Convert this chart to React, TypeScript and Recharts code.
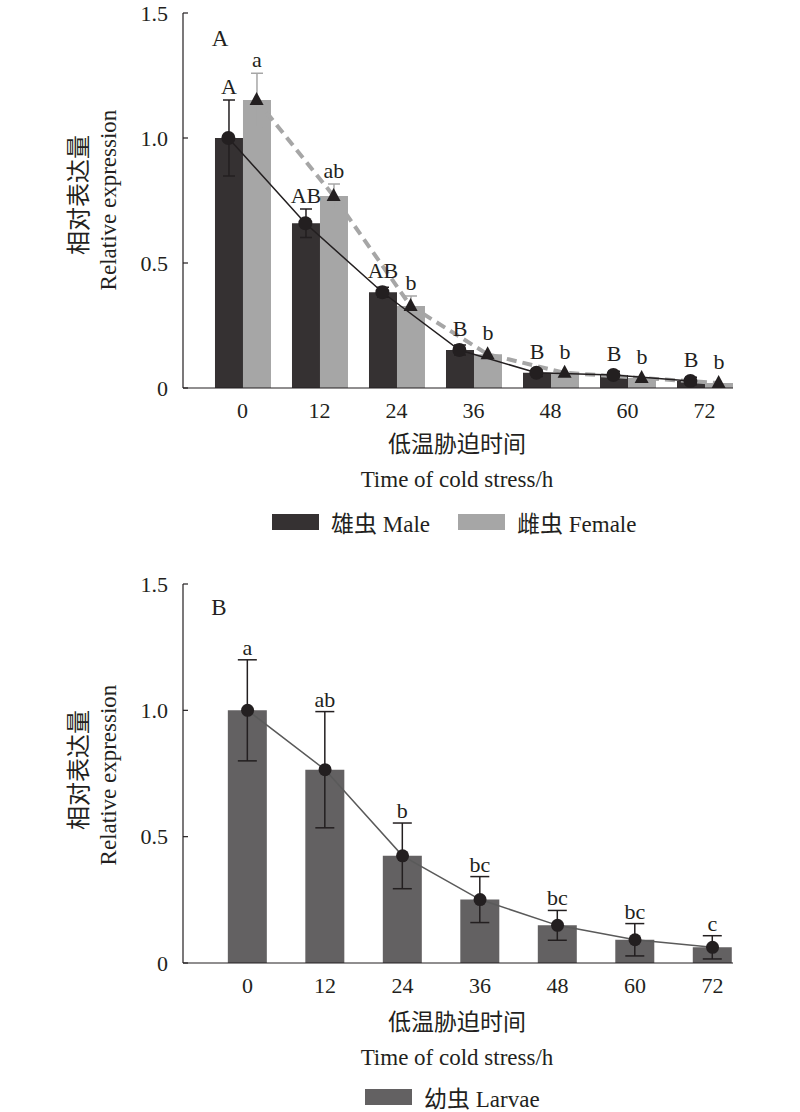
import {
  Bar,
  ComposedChart,
  ErrorBar,
  LabelList,
  Line,
  XAxis,
  YAxis,
} from "recharts";

const hours = [0, 12, 24, 36, 48, 60, 72];
const yTicks = [0, 0.5, 1, 1.5];

const maleMean = [1.0, 0.659, 0.383, 0.152, 0.061, 0.052, 0.028];
const maleErr = [0.152, 0.057, 0.02, 0.02, 0.015, 0.015, 0.015];
const maleLetters = ["A", "AB", "AB", "B", "B", "B", "B"];

const femaleMean = [1.152, 0.768, 0.328, 0.135, 0.061, 0.04, 0.02];
const femaleErr = [0.107, 0.048, 0.04, 0, 0, 0, 0];
const femaleLetters = ["a", "ab", "b", "b", "b", "b", "b"];

const larvaeMean = [1.0, 0.765, 0.424, 0.251, 0.149, 0.092, 0.062];
const larvaeErr = [0.2, 0.23, 0.13, 0.091, 0.059, 0.064, 0.046];
const larvaeLetters = ["a", "ab", "b", "bc", "bc", "bc", "c"];

const ink = "#231f20";
const maleColor = "#353132";
const femaleColor = "#a6a6a6";
const larvaeColor = "#636162";
const font = '"Liberation Serif", "Times New Roman", "Noto Sans CJK SC", serif';

const adultData = hours.map((h, i) => ({
  h,
  male: maleMean[i],
  maleErr: maleErr[i],
  female: femaleMean[i],
  femaleErr: femaleErr[i],
}));

const larvaeData = hours.map((h, i) => ({
  h,
  larvae: larvaeMean[i],
  larvaeErr: larvaeErr[i],
}));

// letter above the error bar (or above the marker when the error bar is tiny)
const letterLabel =
  (letters: string[], means: number[], errs: number[], lift: number) =>
  (props: any) => {
    const vb = props.viewBox || props;
    const i = props.index;
    if (i == null || vb.height == null) return null;
    const pxPerUnit = vb.height / means[i];
    const errTop = vb.y - errs[i] * pxPerUnit;
    const base = Math.min(errTop, vb.y - 8) - lift;
    return (
      <text
        key={`lab-${i}`}
        x={vb.x + vb.width / 2}
        y={base}
        textAnchor="middle"
        fontSize={22}
        fontFamily={font}
        fill={ink}
      >
        {letters[i]}
      </text>
    );
  };

const Triangle = (props: any) => {
  const { cx, cy, index } = props;
  if (cx == null || cy == null) return null;
  return (
    <polygon
      key={`tri-${index}`}
      points={`${cx},${cy - 8} ${cx - 7},${cy + 5} ${cx + 7},${cy + 5}`}
      fill={ink}
    />
  );
};

const Circle = (r: number) => (props: any) => {
  const { cx, cy, index } = props;
  if (cx == null || cy == null) return null;
  return <circle key={`dot-${index}`} cx={cx} cy={cy} r={r} fill={ink} />;
};

const tickStyle = { fontSize: 22, fill: ink, fontFamily: font };
const axisStyle = { stroke: ink, strokeWidth: 1.2 };
const fmtY = (v: number) => (v === 0 ? "0" : v.toFixed(1));

const text = (
  s: string,
  cx: number,
  cy: number,
  size: number,
  rotate = false
) => (
  <div
    style={{
      position: "absolute",
      left: cx,
      top: cy,
      transform: `translate(-50%, -50%)${rotate ? " rotate(-90deg)" : ""}`,
      whiteSpace: "nowrap",
      fontSize: size,
      lineHeight: 1,
      fontFamily: font,
      color: ink,
    }}
  >
    {s}
  </div>
);

const legendItem = (label: string, color: string, left: number, cy: number) => (
  <div
    style={{
      position: "absolute",
      left,
      top: cy - 15,
      height: 30,
      display: "flex",
      alignItems: "center",
      fontSize: 23,
      fontFamily: font,
      color: ink,
      whiteSpace: "nowrap",
    }}
  >
    <span
      style={{
        display: "inline-block",
        width: 47,
        height: 16,
        background: color,
        marginRight: 12,
      }}
    />
    {label}
  </div>
);

const topDomain: [number, number] = [-9.27, 76.44];
const botDomain: [number, number] = [-10, 75.17];
const shift = 2.2;

export default function App() {
  return (
    <div
      style={{
        position: "absolute",
        left: 0,
        top: 0,
        width: 800,
        height: 1112,
        background: "#fff",
      }}
    >
      <div style={{ position: "absolute", left: 0, top: 0 }}>
        <ComposedChart
          width={800}
          height={428}
          data={adultData}
          margin={{ top: 13, right: 67, bottom: 0, left: 0 }}
          barGap={0}
        >
          <XAxis
            xAxisId="main"
            dataKey="h"
            type="number"
            domain={topDomain}
            ticks={hours}
            interval={0}
            allowDataOverflow
            tickLine={false}
            axisLine={axisStyle}
            tick={tickStyle}
            tickMargin={8}
            height={40}
          />
          {/* hidden axes that place the mean markers on each bar of the pair */}
          <XAxis
            xAxisId="m"
            dataKey="h"
            type="number"
            orientation="top"
            domain={[topDomain[0] + shift, topDomain[1] + shift]}
            allowDataOverflow
            hide
          />
          <XAxis
            xAxisId="f"
            dataKey="h"
            type="number"
            orientation="top"
            domain={[topDomain[0] - shift, topDomain[1] - shift]}
            allowDataOverflow
            hide
          />
          <YAxis
            width={183}
            domain={[0, 1.5]}
            ticks={yTicks}
            tickFormatter={fmtY}
            tickSize={-5}
            tickMargin={20}
            tickLine={axisStyle}
            axisLine={axisStyle}
            tick={tickStyle}
          />
          <Bar
            xAxisId="main"
            dataKey="male"
            fill={maleColor}
            barSize={28}
            isAnimationActive={false}
          >
            <ErrorBar dataKey="maleErr" width={6} stroke={ink} strokeWidth={1.5} />
            <LabelList
              dataKey="male"
              content={letterLabel(maleLetters, maleMean, maleErr, 6)}
            />
          </Bar>
          <Bar
            xAxisId="main"
            dataKey="female"
            fill={femaleColor}
            barSize={28}
            isAnimationActive={false}
          >
            <ErrorBar
              dataKey="femaleErr"
              width={6}
              stroke={femaleColor}
              strokeWidth={1.5}
            />
            <LabelList
              dataKey="female"
              content={letterLabel(femaleLetters, femaleMean, femaleErr, 6)}
            />
          </Bar>
          <Line
            xAxisId="f"
            dataKey="female"
            type="linear"
            stroke={femaleColor}
            strokeWidth={4}
            strokeDasharray="10 6"
            dot={Triangle}
            activeDot={false}
            isAnimationActive={false}
          />
          <Line
            xAxisId="m"
            dataKey="male"
            type="linear"
            stroke={ink}
            strokeWidth={1.5}
            dot={Circle(7)}
            activeDot={false}
            isAnimationActive={false}
          />
        </ComposedChart>
      </div>

      <div style={{ position: "absolute", left: 0, top: 570 }}>
        <ComposedChart
          width={800}
          height={433}
          data={larvaeData}
          margin={{ top: 14, right: 67, bottom: 0, left: 0 }}
        >
          <XAxis
            dataKey="h"
            type="number"
            domain={botDomain}
            ticks={hours}
            interval={0}
            allowDataOverflow
            tickLine={false}
            axisLine={axisStyle}
            tick={tickStyle}
            tickMargin={8}
            height={40}
          />
          <YAxis
            width={183}
            domain={[0, 1.5]}
            ticks={yTicks}
            tickFormatter={fmtY}
            tickSize={-5}
            tickMargin={20}
            tickLine={axisStyle}
            axisLine={axisStyle}
            tick={tickStyle}
          />
          <Bar
            dataKey="larvae"
            fill={larvaeColor}
            barSize={39}
            isAnimationActive={false}
          >
            <ErrorBar
              dataKey="larvaeErr"
              width={9.5}
              stroke={ink}
              strokeWidth={1.5}
            />
            <LabelList
              dataKey="larvae"
              content={letterLabel(larvaeLetters, larvaeMean, larvaeErr, 5)}
            />
          </Bar>
          <Line
            dataKey="larvae"
            type="linear"
            stroke="#5a5a5a"
            strokeWidth={1.5}
            dot={Circle(6.5)}
            activeDot={false}
            isAnimationActive={false}
          />
        </ComposedChart>
      </div>

      {text("A", 220, 38, 23)}
      {text("B", 219, 607, 23)}

      {text("相对表达量", 79, 195, 24, true)}
      {text("Relative expression", 108, 200, 23, true)}
      {text("相对表达量", 79, 770, 24, true)}
      {text("Relative expression", 108, 775, 23, true)}

      {text("低温胁迫时间", 457, 444, 23)}
      {text("Time of cold stress/h", 457, 479, 23)}
      {text("低温胁迫时间", 457, 1022, 23)}
      {text("Time of cold stress/h", 457, 1057, 23)}

      {legendItem("雄虫 Male", maleColor, 272, 522)}
      {legendItem("雌虫 Female", femaleColor, 458, 522)}
      {legendItem("幼虫 Larvae", larvaeColor, 365, 1097)}
    </div>
  );
}
